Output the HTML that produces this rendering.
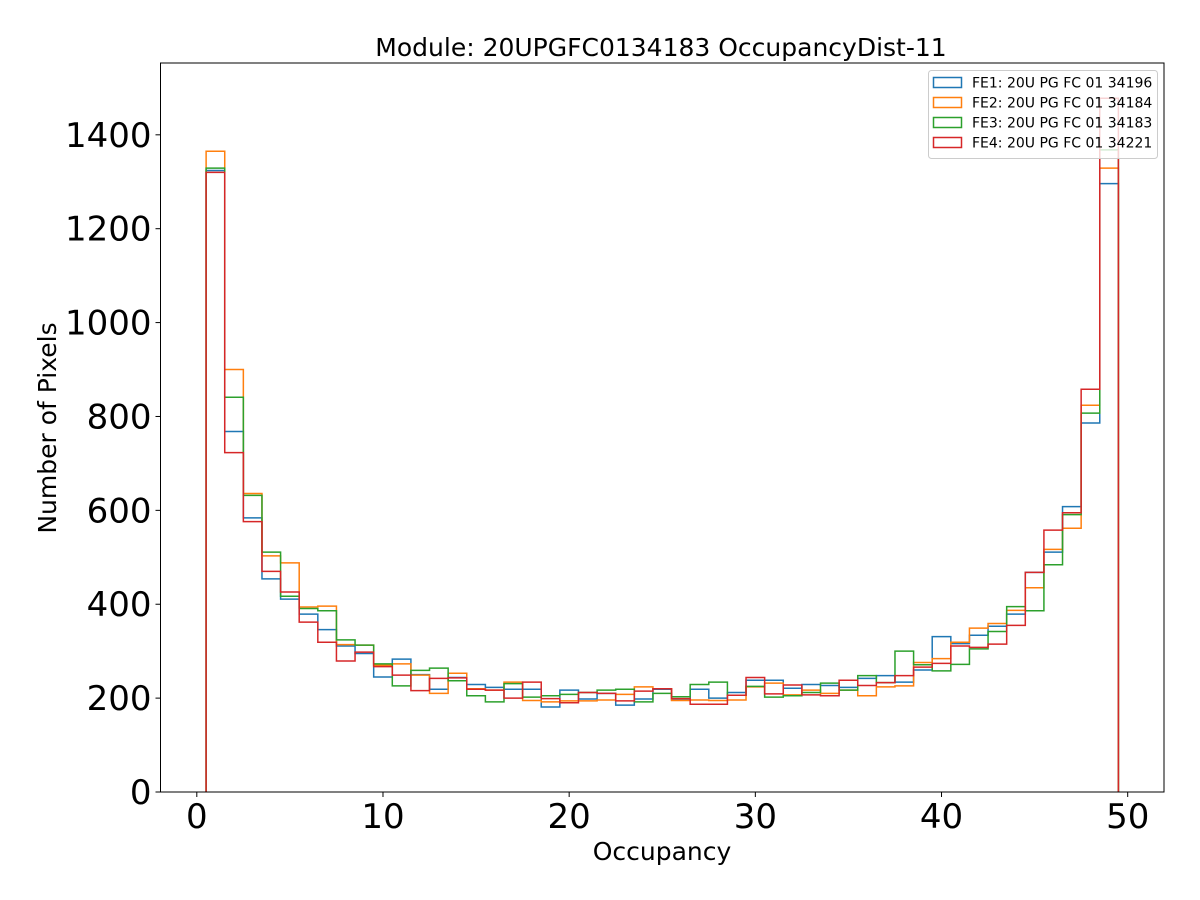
<!DOCTYPE html>
<html><head><meta charset="utf-8"><style>
body{margin:0;background:#fff}
svg{display:block;font-family:"DejaVu Sans","Liberation Sans",sans-serif}
</style></head><body>
<svg id="chart" width="1200" height="900" viewBox="0 0 1200 900">
<rect width="1200" height="900" fill="#fff"/>
<text x="661" y="56" font-size="25" text-anchor="middle">Module: 20UPGFC0134183 OccupancyDist-11</text>
<g id="marks"></g>
<g id="axes"></g>
<text x="662" y="860" font-size="25" text-anchor="middle">Occupancy</text>
<text transform="translate(56,428) rotate(-90)" font-size="25" text-anchor="middle">Number of Pixels</text>
<g id="legend"></g>
</svg>
<script>
const seriesNames = ["FE1: 20U PG FC 01 34196","FE2: 20U PG FC 01 34184","FE3: 20U PG FC 01 34183","FE4: 20U PG FC 01 34221"];
const seriesColors = ["#1f77b4","#ff7f0e","#2ca02c","#d62728"];
const fe1 = [1324,768,584,454,411,379,346,311,295,245,283,250,219,244,229,223,219,219,181,217,198,210,185,198,219,196,219,200,212,238,238,221,229,227,223,242,248,234,260,331,316,334,353,379,468,511,608,786,1296];
const fe2 = [1365,900,636,503,488,394,396,314,313,270,273,249,210,253,220,217,234,195,192,194,194,196,208,224,220,195,196,195,196,224,232,207,217,210,217,205,224,226,276,284,319,349,359,387,435,517,562,824,1329];
const fe3 = [1329,841,632,511,417,391,386,324,313,273,226,259,264,237,205,192,231,202,205,208,212,217,219,192,210,203,229,234,206,225,202,205,212,232,217,248,233,300,271,258,272,305,342,395,386,484,591,807,1368];
const fe4 = [1320,723,576,470,426,362,319,279,298,267,249,216,242,243,219,217,200,234,199,190,212,210,194,215,220,199,187,187,206,244,209,228,207,205,238,227,233,248,266,274,311,308,315,355,468,558,595,858,1478];
const xTicks = [0,10,20,30,40,50];
const yTicks = [0,200,400,600,800,1000,1200,1400];
const binStart = 0.5, binWidth = 1;

const L=160.5,R=1164,T=63,B=792;
const xmin=-1.95,xmax=51.95,ymin=0,ymax=1553;
const sx=v=>L+(v-xmin)/(xmax-xmin)*(R-L);
const sy=v=>B-(v-ymin)/(ymax-ymin)*(B-T);
const NS="http://www.w3.org/2000/svg";
function mk(tag,attrs,parent){const e=document.createElementNS(NS,tag);for(const k in attrs)e.setAttribute(k,attrs[k]);parent.appendChild(e);return e;}

const marks=document.getElementById('marks');
[fe1,fe2,fe3,fe4].forEach((vals,si)=>{
  let d="M"+sx(binStart)+","+sy(0);
  vals.forEach((v,i)=>{
    const x0=sx(binStart+i*binWidth), x1=sx(binStart+(i+1)*binWidth);
    d+=" L"+x0+","+sy(v)+" L"+x1+","+sy(v);
  });
  d+=" L"+sx(binStart+vals.length*binWidth)+","+sy(0);
  const p=mk('path',{d:d,fill:"none",stroke:seriesColors[si],"stroke-width":1.5,"stroke-linejoin":"miter"},marks);
  
  
});

const axes=document.getElementById('axes');
const frame=mk('rect',{x:L,y:T,width:R-L,height:B-T,fill:"none",stroke:"#000","stroke-width":1},axes);


xTicks.forEach(t=>{
  const x=sx(t);
  const ln=mk('line',{x1:x,y1:B,x2:x,y2:B+5,stroke:"#000","stroke-width":1},axes);
  
  
  const tx=mk('text',{x:x,y:B+36,"font-size":34,"text-anchor":"middle"},axes);
  tx.textContent=t;
  
  
});
yTicks.forEach(t=>{
  const y=sy(t);
  const ln=mk('line',{x1:L-5,y1:y,x2:L,y2:y,stroke:"#000","stroke-width":1},axes);
  
  
  const tx=mk('text',{x:L-9,y:y+12,"font-size":34,"text-anchor":"end"},axes);
  tx.textContent=t;
  
  
});

const lg=document.getElementById('legend');
const box=mk('rect',{x:928.5,y:70.5,width:229,height:88,rx:3,fill:"#fff","fill-opacity":0.8,stroke:"#ccc","stroke-width":1},lg);


seriesNames.forEach((n,i)=>{
  const y=77.5+i*20;
  const r=mk('rect',{x:933.5,y:y,width:28,height:10,fill:"none",stroke:seriesColors[i],"stroke-width":1.5},lg);
  
  
  const t=mk('text',{x:972,y:y+10,"font-size":14},lg);
  t.textContent=n;
  
  
});
</script>
</body></html>
